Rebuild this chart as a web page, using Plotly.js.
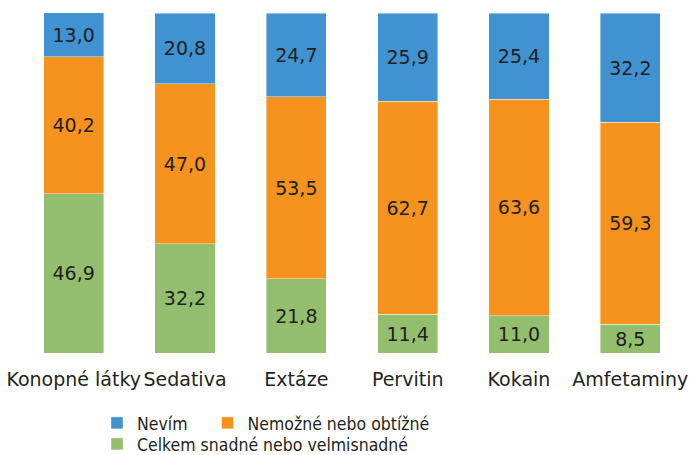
<!DOCTYPE html>
<html>
<head>
<meta charset="utf-8">
<script src="https://cdn.plot.ly/plotly-3.0.1.min.js"></script>
<style>html,body{margin:0;padding:0;background:#fff}#chart{width:690px;height:455px}</style>
</head>
<body>
<div id="chart"></div>
<script>
const categories = ['Konopné látky','Sedativa','Extáze','Pervitin','Kokain','Amfetaminy'];
const easyValues = [46.9, 32.2, 21.8, 11.4, 11.0, 8.5];
const hardValues = [40.2, 47.0, 53.5, 62.7, 63.6, 59.3];
const unknownValues = [13.0, 20.8, 24.7, 25.9, 25.4, 32.2];
const seriesNames = ['Celkem snadné nebo velmisnadné', 'Nemožné nebo obtížné', 'Nevím\u00A0\u00A0\u00A0'];

const labelFont = {family: 'DejaVu Sans, sans-serif', size: 19, color: '#231f20'};
const legendFont = {family: 'DejaVu Sans Condensed, sans-serif', size: 17.5, color: '#231f20'};

function barTrace(vals, name, color, legendId) {
  return {
    type: 'bar', x: categories, y: vals, name: name,
    marker: {color: color, line: {color: 'rgba(255,255,255,0.6)', width: 0.7}},
    texttemplate: '%{y:.1f}', textposition: 'inside', insidetextanchor: 'middle',
    textfont: labelFont, constraintext: 'none', hoverinfo: 'skip',
    legend: legendId
  };
}

const data = [
  barTrace(easyValues, seriesNames[0], '#93be6e', 'legend2'),
  barTrace(hardValues, seriesNames[1], '#f6921e', 'legend'),
  barTrace(unknownValues, seriesNames[2], '#4192d0', 'legend')
];

const layout = {
  width: 690, height: 455,
  margin: {l: 18, r: 4, t: 13, b: 102},
  barmode: 'stack', bargap: 0.46,
  separators: ', ',
  paper_bgcolor: '#fff', plot_bgcolor: '#fff',
  showlegend: true,
  xaxis: {showgrid: false, zeroline: false, showline: false, ticks: '', tickfont: labelFont, ticklabelstandoff: 13},
  yaxis: {range: [0, 100], visible: false, fixedrange: true},
  legend: {orientation: 'h', traceorder: 'reversed', xref: 'container', yref: 'container',
           x: 97/690, xanchor: 'left', y: 1 - 405/455, yanchor: 'top', font: legendFont,
           itemclick: false, bgcolor: 'rgba(0,0,0,0)'},
  legend2: {orientation: 'h', xref: 'container', yref: 'container',
            x: 97/690, xanchor: 'left', y: 1 - 426/455, yanchor: 'top', font: legendFont,
            itemclick: false, bgcolor: 'rgba(0,0,0,0)'}
};

Plotly.newPlot('chart', data, layout, {displayModeBar: false, staticPlot: true});
</script>
</body>
</html>
